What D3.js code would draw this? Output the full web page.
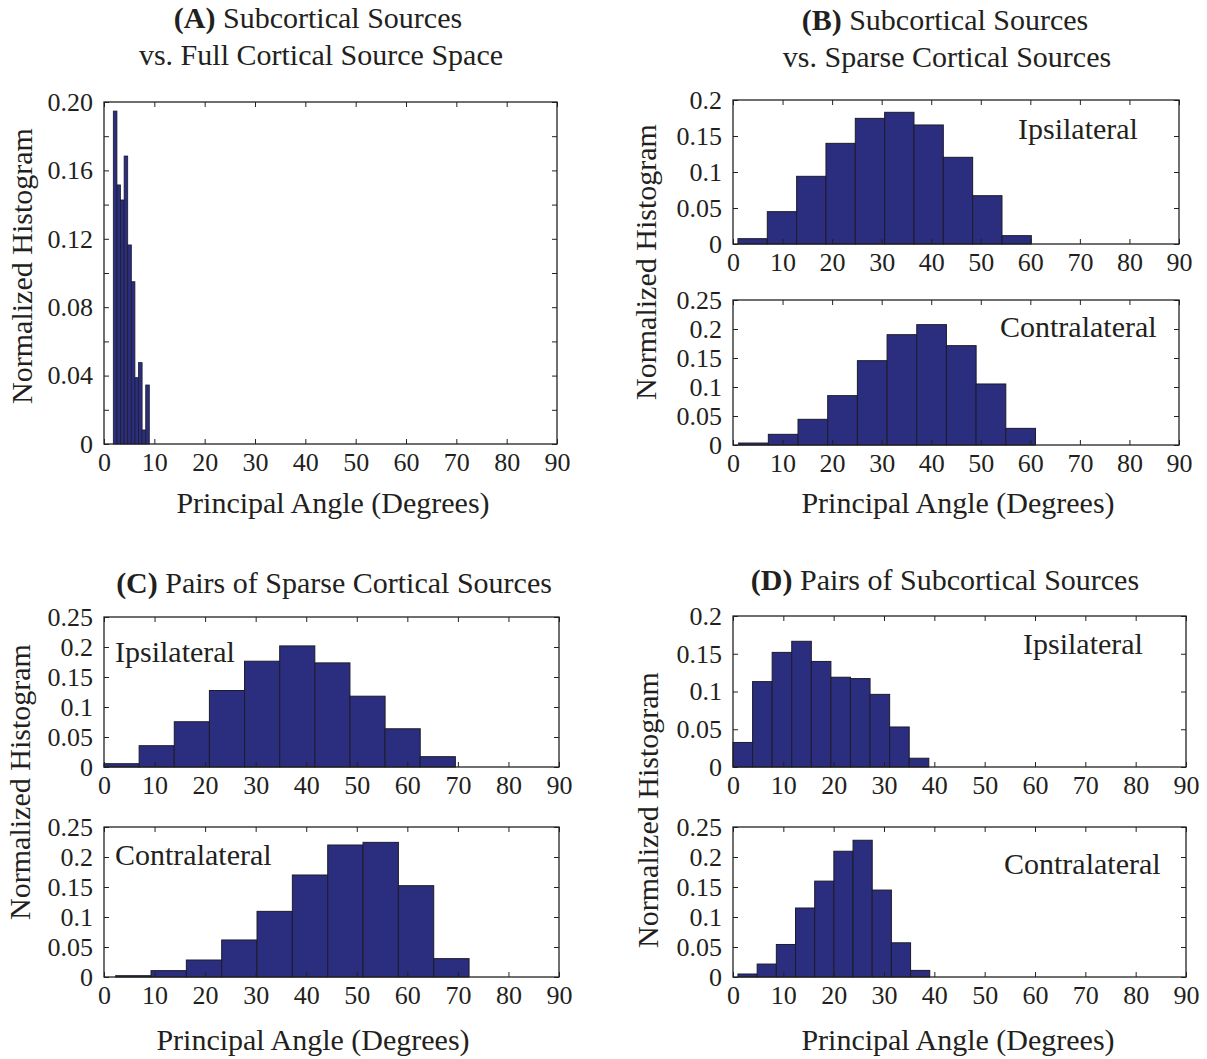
<!DOCTYPE html>
<html>
<head>
<meta charset="utf-8">
<script src="https://cdn.jsdelivr.net/npm/d3@7"></script>
<style>
  body { margin: 0; background: #fff; }
  text { font-family: 'Liberation Serif', 'Times New Roman', serif; fill: #231f20; }
</style>
</head>
<body>
<script>
// x axis is the same everywhere
let xTicks = [0, 10, 20, 30, 40, 50, 60, 70, 80, 90];

// (A) subcortical vs full cortical space
let aEdges = [1.85, 2.57, 3.28, 4.00, 4.71, 5.43, 6.14, 6.86, 7.57, 8.29, 9.00];
let aValues = [0.1947, 0.1515, 0.1427, 0.1684, 0.1164, 0.0949, 0.0388, 0.0476, 0.0082, 0.0345];
let aYTicks = [0, 0.02, 0.04, 0.06, 0.08, 0.10, 0.12, 0.14, 0.16, 0.18, 0.20];
let aYLabels = ['0', '', '0.04', '', '0.08', '', '0.12', '', '0.16', '', '0.20'];

// (B) subcortical vs sparse cortical
let bIpsiEdges = [1.0, 6.92, 12.84, 18.76, 24.68, 30.6, 36.52, 42.44, 48.36, 54.28, 60.2];
let bIpsiValues = [0.0074, 0.0449, 0.094, 0.1398, 0.1745, 0.1829, 0.1653, 0.1204, 0.0671, 0.0116];
let bContraEdges = [1.14, 7.13, 13.12, 19.11, 25.1, 31.09, 37.08, 43.07, 49.06, 55.05, 61.04];
let bContraValues = [0.0034, 0.0184, 0.0443, 0.0851, 0.1454, 0.1902, 0.2075, 0.1713, 0.1052, 0.0287];

// (C) pairs of sparse cortical sources
let cIpsiEdges = [0, 6.95, 13.9, 20.85, 27.8, 34.75, 41.7, 48.65, 55.6, 62.55, 69.5];
let cIpsiValues = [0.0055, 0.0355, 0.0754, 0.1275, 0.1763, 0.2018, 0.1735, 0.118, 0.0637, 0.0172];
let cContraEdges = [2.31, 9.3, 16.29, 23.28, 30.27, 37.26, 44.25, 51.24, 58.23, 65.22, 72.21];
let cContraValues = [0.0022, 0.0106, 0.0283, 0.0617, 0.1094, 0.17, 0.22, 0.2244, 0.1522, 0.0306];

// (D) pairs of subcortical sources
let dIpsiEdges = [0, 3.89, 7.78, 11.67, 15.56, 19.45, 23.34, 27.23, 31.12, 35.01, 38.9];
let dIpsiValues = [0.0325, 0.1131, 0.1518, 0.1665, 0.1398, 0.1189, 0.1171, 0.0962, 0.053, 0.0116];
let dContraEdges = [0.99, 4.8, 8.61, 12.42, 16.23, 20.04, 23.85, 27.66, 31.47, 35.28, 39.09];
let dContraValues = [0.005, 0.0216, 0.0542, 0.115, 0.1598, 0.2096, 0.2279, 0.1449, 0.057, 0.011];

let ticks02 = [0, 0.05, 0.1, 0.15, 0.2];
let labels02 = ['0', '0.05', '0.1', '0.15', '0.2'];
let ticks025 = [0, 0.05, 0.1, 0.15, 0.2, 0.25];
let labels025 = ['0', '0.05', '0.1', '0.15', '0.2', '0.25'];

let svg = d3.select('body')
  .append('svg')
  .attr('width', 1207)
  .attr('height', 1059);

let tickFont = '26px';
let labelFont = '30px';

// draws one histogram box, MATLAB style (ticks inside on all four sides)
function histogram(box, edges, values, yTicks, yLabels, inner) {
  let x = d3.scaleLinear().domain([0, 90]).range([box.x0, box.x1]);
  let y = d3.scaleLinear().domain([0, d3.max(yTicks)]).range([box.y1, box.y0]);
  let g = svg.append('g');

  let bins = values.map(function(v, i) {
    return {lo: edges[i], hi: edges[i + 1], v: v};
  });

  g.selectAll('rect.bar')
    .data(bins)
    .enter()
    .append('rect')
    .attr('class', 'bar')
    .attr('x', function(d) { return x(d.lo); })
    .attr('y', function(d) { return y(d.v); })
    .attr('width', function(d) { return x(d.hi) - x(d.lo); })
    .attr('height', function(d) { return y(0) - y(d.v); })
    .attr('fill', '#2b2d7f')
    .attr('stroke', '#1c1c2a')
    .attr('stroke-width', box.barStroke || 1);

  let tl = 5;
  // bottom axis with labels
  g.append('g')
    .attr('transform', `translate(0,${box.y1})`)
    .call(d3.axisBottom(x).tickValues(xTicks).tickSize(-tl).tickSizeOuter(0).tickPadding(9).tickFormat(d3.format('d')))
    .call(s => s.selectAll('text').style('font-size', tickFont).attr('fill', '#231f20'));
  // top ticks
  g.append('g')
    .attr('transform', `translate(0,${box.y0})`)
    .call(d3.axisTop(x).tickValues(xTicks).tickSize(-tl).tickSizeOuter(0).tickFormat(''));
  // left axis with labels
  g.append('g')
    .attr('transform', `translate(${box.x0},0)`)
    .call(d3.axisLeft(y).tickValues(yTicks).tickSize(-tl).tickSizeOuter(0).tickPadding(11)
      .tickFormat(function(d, i) { return yLabels[i]; }))
    .call(s => s.selectAll('text').style('font-size', tickFont).attr('fill', '#231f20'));
  // right ticks
  g.append('g')
    .attr('transform', `translate(${box.x1},0)`)
    .call(d3.axisRight(y).tickValues(yTicks).tickSize(-tl).tickSizeOuter(0).tickFormat(''));

  g.selectAll('.domain').remove();
  g.selectAll('.tick line').attr('stroke', '#222').attr('stroke-width', 1);

  // frame
  g.append('rect')
    .attr('x', box.x0)
    .attr('y', box.y0)
    .attr('width', box.x1 - box.x0)
    .attr('height', box.y1 - box.y0)
    .attr('fill', 'none')
    .attr('stroke', '#222')
    .attr('stroke-width', 1.3);

  if (inner) {
    g.append('text')
      .attr('x', inner.x)
      .attr('y', inner.y)
      .style('font-size', labelFont)
      .text(inner.text);
  }
}

function addText(x, y, str, rotate) {
  let t = svg.append('text')
    .attr('text-anchor', 'middle')
    .style('font-size', labelFont)
    .text(str);
  if (rotate) {
    t.attr('transform', `translate(${x},${y}) rotate(-90)`);
  } else {
    t.attr('x', x).attr('y', y);
  }
  return t;
}

function addTitle(x, y, letter, rest) {
  let t = svg.append('text')
    .attr('x', x)
    .attr('y', y)
    .attr('text-anchor', 'middle')
    .style('font-size', labelFont);
  t.append('tspan').style('font-weight', 'bold').text(letter);
  t.append('tspan').text(rest);
}

// panel A
histogram({x0: 104, x1: 557, y0: 102, y1: 444, barStroke: 0.8}, aEdges, aValues, aYTicks, aYLabels);
addTitle(318, 28, '(A)', ' Subcortical Sources');
addText(321, 65, 'vs. Full Cortical Source Space');
addText(333, 513, 'Principal Angle (Degrees)');
addText(32, 266, 'Normalized Histogram', true);

// panel B
histogram({x0: 733, x1: 1179, y0: 100, y1: 244}, bIpsiEdges, bIpsiValues, ticks02, labels02,
  {x: 1018, y: 139, text: 'Ipsilateral'});
histogram({x0: 733, x1: 1179, y0: 300, y1: 445}, bContraEdges, bContraValues, ticks025, labels025,
  {x: 1000, y: 337, text: 'Contralateral'});
addTitle(945, 30, '(B)', ' Subcortical Sources');
addText(947, 67, 'vs. Sparse Cortical Sources');
addText(958, 513, 'Principal Angle (Degrees)');
addText(656, 262, 'Normalized Histogram', true);

// panel C
histogram({x0: 104, x1: 559, y0: 617, y1: 767}, cIpsiEdges, cIpsiValues, ticks025, labels025,
  {x: 115, y: 662, text: 'Ipsilateral'});
histogram({x0: 104, x1: 559, y0: 827, y1: 977}, cContraEdges, cContraValues, ticks025, labels025,
  {x: 115, y: 865, text: 'Contralateral'});
addTitle(334, 593, '(C)', ' Pairs of Sparse Cortical Sources');
addText(313, 1050, 'Principal Angle (Degrees)');
addText(30, 782, 'Normalized Histogram', true);

// panel D
histogram({x0: 733, x1: 1186, y0: 616, y1: 767}, dIpsiEdges, dIpsiValues, ticks02, labels02,
  {x: 1023, y: 654, text: 'Ipsilateral'});
histogram({x0: 733, x1: 1186, y0: 827, y1: 977}, dContraEdges, dContraValues, ticks025, labels025,
  {x: 1004, y: 874, text: 'Contralateral'});
addTitle(945, 590, '(D)', ' Pairs of Subcortical Sources');
addText(958, 1050, 'Principal Angle (Degrees)');
addText(658, 810, 'Normalized Histogram', true);
</script>
</body>
</html>
